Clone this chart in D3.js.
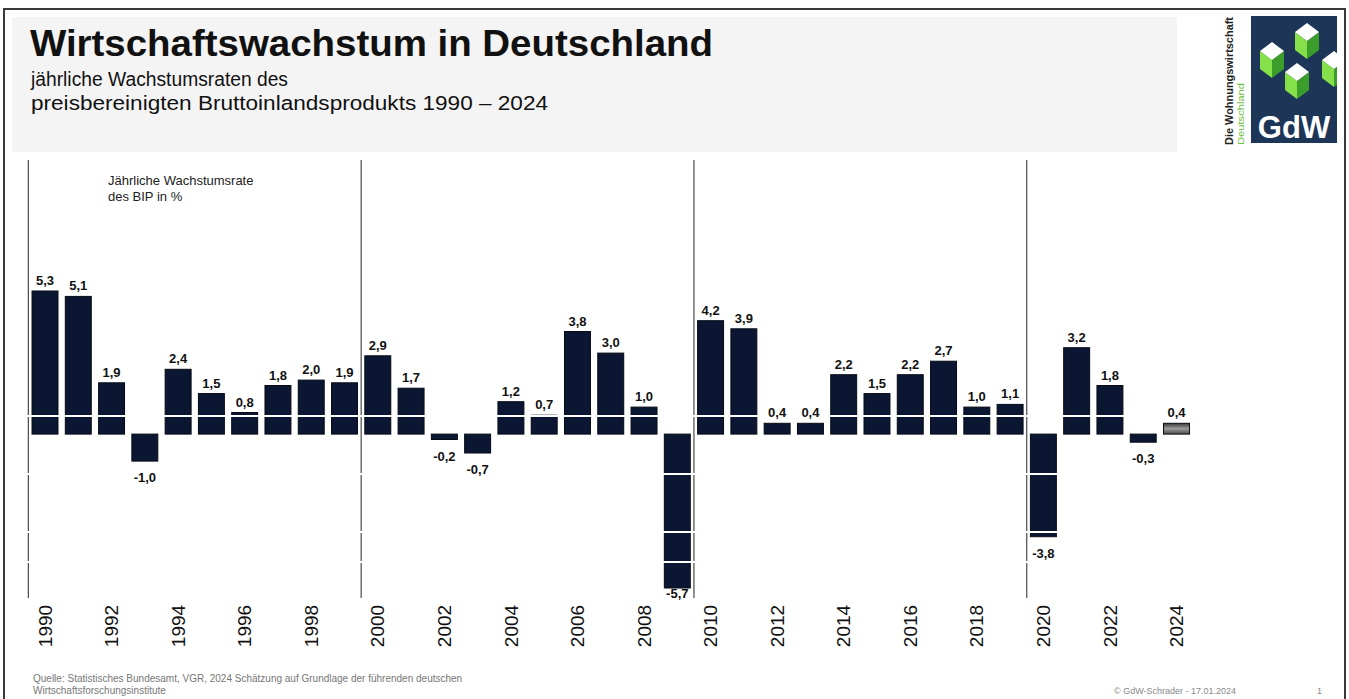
<html>
    <head>
        <title>Wirtschaftswachstum in Deutschland</title>
        <style>
            body { margin: 0; background: #fff; }
            text { font-family: "Liberation Sans", Arial, sans-serif; }
        </style>
    </head>
    <body>
    </body>
    <script src='https://d3js.org/d3.v7.min.js'></script>
    <script>
        var years = [1990, 1991, 1992, 1993, 1994, 1995, 1996, 1997, 1998, 1999,
                     2000, 2001, 2002, 2003, 2004, 2005, 2006, 2007, 2008, 2009,
                     2010, 2011, 2012, 2013, 2014, 2015, 2016, 2017, 2018, 2019,
                     2020, 2021, 2022, 2023, 2024]
        var growth = [5.3, 5.1, 1.9, -1.0, 2.4, 1.5, 0.8, 1.8, 2.0, 1.9,
                      2.9, 1.7, -0.2, -0.7, 1.2, 0.7, 3.8, 3.0, 1.0, -5.7,
                      4.2, 3.9, 0.4, 0.4, 2.2, 1.5, 2.2, 2.7, 1.0, 1.1,
                      -3.8, 3.2, 1.8, -0.3, 0.4]
        var estimateYear = 2024
        var tickYears = [1990, 1992, 1994, 1996, 1998, 2000, 2002, 2004, 2006, 2008,
                         2010, 2012, 2014, 2016, 2018, 2020, 2022, 2024]
        var decadeYears = [1990, 2000, 2010, 2020]
        // white cut lines running through the bars (values in %)
        var cutLines = [0.67, -1.48, -3.63, -4.74]

        var width = 1349
        var height = 699
        var svg = d3.select('body')
            .append('svg')
            .attr('width', width)
            .attr('height', height)

        var defs = svg.append('defs')
        var grad = defs.append('linearGradient')
            .attr('id', 'estGrad')
            .attr('x1', 0).attr('y1', 0).attr('x2', 0).attr('y2', 1)
        grad.append('stop').attr('offset', '0%').attr('stop-color', '#3a3a3a')
        grad.append('stop').attr('offset', '50%').attr('stop-color', '#9c9c9c')
        grad.append('stop').attr('offset', '100%').attr('stop-color', '#4a4a4a')
        defs.append('clipPath').attr('id', 'logoClip')
            .append('rect')
            .attr('x', 1251).attr('y', 16).attr('width', 86).attr('height', 127)

        // frame + header
        svg.append('rect')
            .attr('x', 4).attr('y', 9)
            .attr('width', 1341).attr('height', 710)
            .attr('fill', 'none').attr('stroke', '#3a3a3a').attr('stroke-width', 2)
        svg.append('rect')
            .attr('x', 12).attr('y', 17)
            .attr('width', 1165).attr('height', 135)
            .attr('fill', '#f4f4f4')

        svg.append('text')
            .attr('x', 30).attr('y', 56)
            .attr('font-size', 37).attr('font-weight', 'bold')
            .attr('fill', '#111')
            .attr('textLength', 683).attr('lengthAdjust', 'spacingAndGlyphs')
            .text('Wirtschaftswachstum in Deutschland')
        svg.append('text')
            .attr('x', 31).attr('y', 86)
            .attr('font-size', 20).attr('fill', '#111')
            .attr('textLength', 257).attr('lengthAdjust', 'spacingAndGlyphs')
            .text('jährliche Wachstumsraten des')
        svg.append('text')
            .attr('x', 31).attr('y', 110)
            .attr('font-size', 20).attr('fill', '#111')
            .attr('textLength', 517).attr('lengthAdjust', 'spacingAndGlyphs')
            .text('preisbereinigten Bruttoinlandsprodukts 1990 – 2024')

        // logo
        var logo = svg.append('g')
        logo.append('rect')
            .attr('x', 1251).attr('y', 16)
            .attr('width', 86).attr('height', 127)
            .attr('fill', '#1d3657')
        var cubes = logo.append('g').attr('clip-path', 'url(#logoClip)')
        function cube(cx, cy) {
            var w = 12, h = 9, d = 18
            cubes.append('polygon')
                .attr('points', [[cx - w, cy], [cx, cy + h], [cx, cy + h + d], [cx - w, cy + d]].join(' '))
                .attr('fill', '#86e04a')
            cubes.append('polygon')
                .attr('points', [[cx, cy + h], [cx + w, cy], [cx + w, cy + d], [cx, cy + h + d]].join(' '))
                .attr('fill', '#3c9e2a')
            cubes.append('polygon')
                .attr('points', [[cx, cy - h], [cx + w, cy], [cx, cy + h], [cx - w, cy]].join(' '))
                .attr('fill', '#ffffff')
        }
        cube(1307, 32)
        cube(1272, 51)
        cube(1334, 60)
        cube(1297, 72)
        logo.append('text')
            .attr('x', 1294).attr('y', 138)
            .attr('text-anchor', 'middle')
            .attr('font-size', 31).attr('font-weight', 'bold')
            .attr('fill', '#fff')
            .text('GdW')
        logo.append('text')
            .attr('transform', 'translate(1233,145) rotate(-90)')
            .attr('font-size', 10).attr('font-weight', 'bold')
            .attr('fill', '#222')
            .attr('textLength', 128).attr('lengthAdjust', 'spacingAndGlyphs')
            .text('Die Wohnungswirtschaft')
        logo.append('text')
            .attr('transform', 'translate(1244,145) rotate(-90)')
            .attr('font-size', 9)
            .attr('fill', '#6cbf3c')
            .attr('textLength', 62).attr('lengthAdjust', 'spacingAndGlyphs')
            .text('Deutschland')

        // scales
        var x = d3.scaleBand()
            .domain(years)
            .range([28.7, 1192.8])
            .paddingInner(0.22)
            .paddingOuter(0.1)
        var y = d3.scaleLinear()
            .domain([-5.7, 5.3])
            .range([588, 291])
        var gap = x.step() - x.bandwidth()

        // decade separators
        svg.selectAll('line.sep')
            .data(decadeYears)
            .enter()
            .append('line')
            .attr('class', 'sep')
            .attr('x1', function(d){ return x(d) - gap / 2 })
            .attr('x2', function(d){ return x(d) - gap / 2 })
            .attr('y1', 160)
            .attr('y2', 598)
            .attr('stroke', '#4a4a4a')
            .attr('stroke-width', 1.2)

        svg.append('text')
            .attr('x', 108).attr('y', 185)
            .attr('font-size', 13).attr('fill', '#222')
            .text('Jährliche Wachstumsrate')
        svg.append('text')
            .attr('x', 108).attr('y', 201)
            .attr('font-size', 13).attr('fill', '#222')
            .text('des BIP in %')

        // bars
        svg.selectAll('rect.bar')
            .data(growth)
            .enter()
            .append('rect')
            .attr('class', 'bar')
            .attr('x', function(d, i){ return x(years[i]) })
            .attr('width', x.bandwidth())
            .attr('y', function(d){ return Math.min(y(d), y(0)) })
            .attr('height', function(d){ return Math.abs(y(d) - y(0)) })
            .attr('fill', function(d, i){ return years[i] === estimateYear ? 'url(#estGrad)' : '#0b1732' })
            .attr('stroke', '#050a14')
            .attr('stroke-width', 1)

        svg.selectAll('line.cut')
            .data(cutLines)
            .enter()
            .append('line')
            .attr('class', 'cut')
            .attr('x1', 20)
            .attr('x2', 1200)
            .attr('y1', function(d){ return y(d) })
            .attr('y2', function(d){ return y(d) })
            .attr('stroke', '#fff')
            .attr('stroke-width', 2)

        // value labels
        var fmt = function(v){ return d3.format('.1f')(v).replace('.', ',').replace('−', '-') }
        svg.selectAll('text.val')
            .data(growth)
            .enter()
            .append('text')
            .attr('class', 'val')
            .attr('x', function(d, i){ return x(years[i]) + x.bandwidth() / 2 })
            .attr('y', function(d){ return d >= 0 ? y(d) - 6 : Math.min(y(d) + 21, 598) })
            .attr('text-anchor', 'middle')
            .attr('font-size', 13).attr('font-weight', 'bold')
            .attr('fill', '#111')
            .text(fmt)

        // year labels
        svg.selectAll('text.year')
            .data(tickYears)
            .enter()
            .append('text')
            .attr('class', 'year')
            .attr('transform', function(d){
                return 'translate(' + (x(d) + x.bandwidth() / 2) + ',626) rotate(-90)'
            })
            .attr('text-anchor', 'middle')
            .attr('dy', '0.35em')
            .attr('font-size', 19)
            .attr('fill', '#111')
            .text(function(d){ return d })

        // footer
        svg.append('text')
            .attr('x', 33).attr('y', 682)
            .attr('font-size', 10).attr('fill', '#777')
            .text('Quelle: Statistisches Bundesamt, VGR, 2024 Schätzung auf Grundlage der führenden deutschen')
        svg.append('text')
            .attr('x', 33).attr('y', 694)
            .attr('font-size', 10).attr('fill', '#777')
            .text('Wirtschaftsforschungsinstitute')
        svg.append('text')
            .attr('x', 1114).attr('y', 694)
            .attr('font-size', 9).attr('fill', '#888')
            .text('© GdW-Schrader - 17.01.2024')
        svg.append('text')
            .attr('x', 1317).attr('y', 694)
            .attr('font-size', 9).attr('fill', '#888')
            .text('1')
    </script>
</html>
